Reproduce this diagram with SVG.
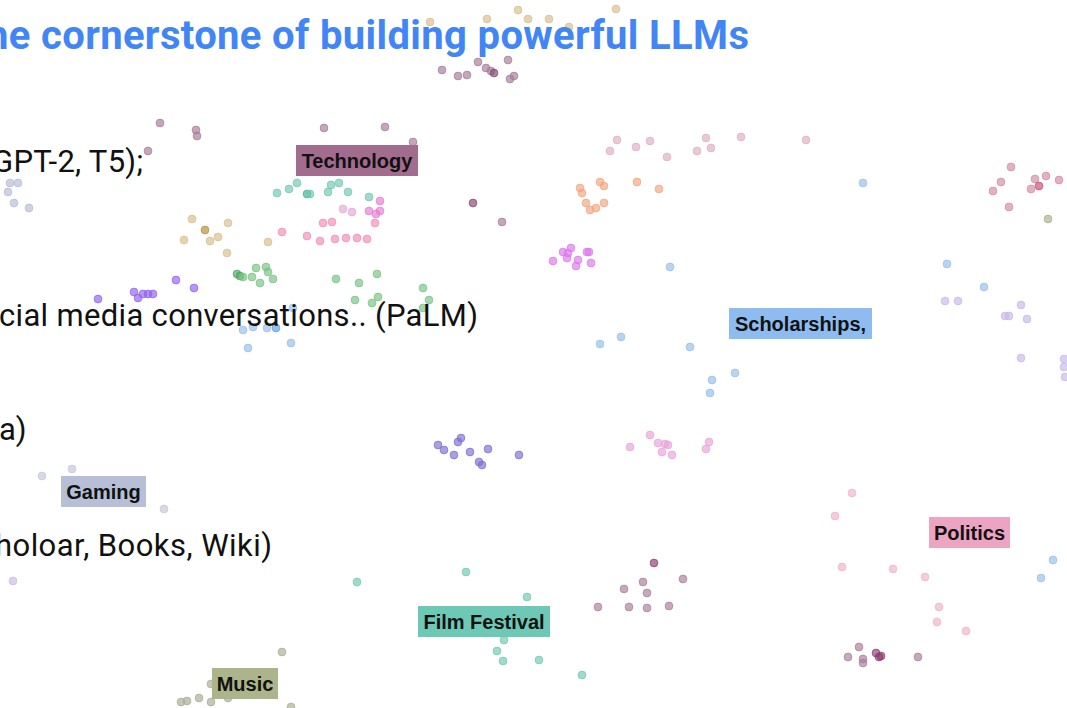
<svg xmlns="http://www.w3.org/2000/svg" width="1067" height="708" viewBox="0 0 1067 708">
<style>
.title{font-family:Roboto,"Liberation Sans",sans-serif;font-weight:700;font-size:40px;fill:#4285f4}
.body{font-family:Roboto,"Liberation Sans",sans-serif;font-size:31px;fill:#111}
.lbl{font-family:"Liberation Sans",Arial,sans-serif;font-weight:700;font-size:20px;fill:#111;text-anchor:middle}
circle{r:3.9px;stroke-width:0.9;fill-opacity:0.66;stroke-opacity:0.8}
.mv{fill:#a57a98;stroke:#a57a98}.mvd{fill:#84456f;stroke:#84456f}
.tan{fill:#d7bd8c;stroke:#d7bd8c}.gold{fill:#b08f35;stroke:#b08f35}
.gl{fill:#b5bad2;stroke:#b5bad2}.tl{fill:#6fc7b2;stroke:#6fc7b2}.tld{fill:#3fae95;stroke:#3fae95}
.pk{fill:#f18bb5;stroke:#f18bb5}.lp{fill:#e2a9d5;stroke:#e2a9d5}.mg{fill:#e77cd2;stroke:#e77cd2}
.gr{fill:#76c381;stroke:#76c381}.grd{fill:#4aa65e;stroke:#4aa65e}.vi{fill:#9160f0;stroke:#9160f0}
.bl{fill:#94bde9;stroke:#94bde9}.bld{fill:#5e9fe2;stroke:#5e9fe2}.lmp{fill:#dfadc3;stroke:#dfadc3}
.or{fill:#f2a57e;stroke:#f2a57e}.mgt{fill:#dc78ec;stroke:#dc78ec}.rm{fill:#d38aa0;stroke:#d38aa0}
.rd{fill:#cc4a70;stroke:#cc4a70}.ol{fill:#a9b088;stroke:#a9b088}.lv{fill:#c8b7e6;stroke:#c8b7e6}
.pk2{fill:#e8a3d8;stroke:#e8a3d8}.in{fill:#7e6dd2;stroke:#7e6dd2}.gm{fill:#c2c7d8;stroke:#c2c7d8}
.mr{fill:#a87d98;stroke:#a87d98}.mrd{fill:#8c3d6f;stroke:#8c3d6f}.po{fill:#f0b1c9;stroke:#f0b1c9}
.ms{fill:#a8ab92;stroke:#a8ab92}
</style>
<rect width="1067" height="708" fill="#ffffff"/>
<g id="dots">
<g id="c-tan-top">
<circle class="tan" cx="430" cy="22" r="3.9"/><circle class="tan" cx="487" cy="19" r="3.9"/><circle class="tan" cx="518" cy="10" r="3.9"/><circle class="tan" cx="528" cy="19" r="3.9"/><circle class="tan" cx="549" cy="19" r="3.9"/><circle class="tan" cx="569" cy="27" r="3.9"/><circle class="tan" cx="616" cy="9" r="3.9"/>
</g>
<g id="c-mauve">
<circle class="mv" cx="442" cy="70" r="3.9"/><circle class="mv" cx="458" cy="76" r="3.9"/><circle class="mv" cx="467" cy="75" r="3.9"/><circle class="mv" cx="478" cy="62" r="3.9"/><circle class="mv" cx="486" cy="68" r="3.9"/><circle class="mv" cx="491" cy="71" r="3.9"/><circle class="mvd" cx="494" cy="73" r="3.9"/><circle class="mv" cx="508" cy="60" r="3.9"/><circle class="mv" cx="510" cy="79" r="3.9"/><circle class="mv" cx="514" cy="76" r="3.9"/>
<circle class="mv" cx="160" cy="123" r="3.9"/><circle class="mv" cx="196" cy="130" r="3.9"/><circle class="mv" cx="197" cy="136" r="3.9"/><circle class="mv" cx="148" cy="151" r="3.9"/><circle class="mv" cx="324" cy="128" r="3.9"/><circle class="mv" cx="385" cy="127" r="3.9"/><circle class="mv" cx="413" cy="142" r="3.9"/><circle class="mv" cx="502" cy="222" r="3.9"/><circle class="mvd" cx="473" cy="203" r="3.9"/>
</g>
<g id="c-graylav">
<circle class="gl" cx="10" cy="183" r="3.9"/><circle class="gl" cx="18" cy="183" r="3.9"/><circle class="gl" cx="8" cy="192" r="3.9"/><circle class="gl" cx="14" cy="203" r="3.9"/><circle class="gl" cx="29" cy="208" r="3.9"/>
</g>
<g id="c-teal-tech">
<circle class="tl" cx="277" cy="193" r="3.9"/><circle class="tl" cx="289" cy="189" r="3.9"/><circle class="tl" cx="297" cy="183" r="3.9"/><circle class="tld" cx="307" cy="194" r="3.9"/><circle class="tl" cx="310" cy="194" r="3.9"/><circle class="tl" cx="328" cy="192" r="3.9"/><circle class="tl" cx="331" cy="185" r="3.9"/><circle class="tl" cx="339" cy="183" r="3.9"/><circle class="tl" cx="348" cy="192" r="3.9"/><circle class="tl" cx="369" cy="197" r="3.9"/>
</g>
<g id="c-pink">
<circle class="lp" cx="343" cy="209" r="3.9"/><circle class="lp" cx="352" cy="212" r="3.9"/>
<circle class="mg" cx="380" cy="201" r="3.9"/><circle class="mg" cx="380" cy="211" r="3.9"/><circle class="mg" cx="376" cy="214" r="3.9"/><circle class="mg" cx="369" cy="211" r="3.9"/><circle class="pk" cx="375" cy="223" r="3.9"/>
<circle class="pk" cx="323" cy="223" r="3.9"/><circle class="pk" cx="332" cy="222" r="3.9"/><circle class="pk" cx="282" cy="232" r="3.9"/><circle class="pk" cx="307" cy="236" r="3.9"/><circle class="pk" cx="320" cy="241" r="3.9"/><circle class="pk" cx="335" cy="239" r="3.9"/><circle class="pk" cx="346" cy="238" r="3.9"/><circle class="pk" cx="357" cy="238" r="3.9"/><circle class="pk" cx="367" cy="239" r="3.9"/>
</g>
<g id="c-tan">
<circle class="tan" cx="192" cy="219" r="3.9"/><circle class="gold" cx="205" cy="230" r="3.9"/><circle class="tan" cx="210" cy="241" r="3.9"/><circle class="tan" cx="218" cy="237" r="3.9"/><circle class="tan" cx="228" cy="223" r="3.9"/><circle class="tan" cx="184" cy="240" r="3.9"/><circle class="tan" cx="227" cy="253" r="3.9"/><circle class="tan" cx="268" cy="242" r="3.9"/>
</g>
<g id="c-green">
<circle class="grd" cx="237" cy="274" r="3.9"/><circle class="grd" cx="240" cy="276" r="3.9"/><circle class="gr" cx="243" cy="277" r="3.9"/><circle class="gr" cx="252" cy="277" r="3.9"/><circle class="gr" cx="256" cy="268" r="3.9"/><circle class="gr" cx="266" cy="267" r="3.9"/><circle class="gr" cx="268" cy="272" r="3.9"/><circle class="gr" cx="273" cy="279" r="3.9"/><circle class="gr" cx="260" cy="283" r="3.9"/><circle class="gr" cx="336" cy="279" r="3.9"/><circle class="gr" cx="359" cy="283" r="3.9"/><circle class="gr" cx="377" cy="274" r="3.9"/><circle class="gr" cx="423" cy="288" r="3.9"/><circle class="gr" cx="429" cy="300" r="3.9"/><circle class="gr" cx="355" cy="300" r="3.9"/><circle class="gr" cx="372" cy="303" r="3.9"/><circle class="gr" cx="378" cy="297" r="3.9"/><circle class="gr" cx="423" cy="308" r="3.9"/>
</g>
<g id="c-violet">
<circle class="vi" cx="176" cy="280" r="3.9"/><circle class="vi" cx="194" cy="288" r="3.9"/><circle class="vi" cx="98" cy="299" r="3.9"/><circle class="vi" cx="134" cy="292" r="3.9"/><circle class="vi" cx="138" cy="298" r="3.9"/><circle class="vi" cx="143" cy="294" r="3.9"/><circle class="vi" cx="148" cy="294" r="3.9"/><circle class="vi" cx="153" cy="294" r="3.9"/>
</g>
<g id="c-blue">
<circle class="bl" cx="243" cy="330" r="3.9"/><circle class="bl" cx="248" cy="348" r="3.9"/><circle class="bl" cx="253" cy="327" r="3.9"/><circle class="bl" cx="267" cy="328" r="3.9"/><circle class="bld" cx="276" cy="328" r="3.9"/><circle class="bl" cx="291" cy="343" r="3.9"/><circle class="bl" cx="293" cy="308" r="3.9"/>
<circle class="bl" cx="670" cy="267" r="3.9"/><circle class="bl" cx="863" cy="183" r="3.9"/><circle class="bl" cx="947" cy="264" r="3.9"/><circle class="bl" cx="984" cy="287" r="3.9"/><circle class="bl" cx="600" cy="344" r="3.9"/><circle class="bl" cx="621" cy="337" r="3.9"/><circle class="bl" cx="690" cy="347" r="3.9"/><circle class="bl" cx="712" cy="380" r="3.9"/><circle class="bl" cx="735" cy="373" r="3.9"/><circle class="bl" cx="710" cy="393" r="3.9"/><circle class="bl" cx="1053" cy="560" r="3.9"/><circle class="bl" cx="1041" cy="578" r="3.9"/>
</g>
<g id="c-lightmauve">
<circle class="lmp" cx="617" cy="140" r="3.9"/><circle class="lmp" cx="610" cy="151" r="3.9"/><circle class="lmp" cx="636" cy="147" r="3.9"/><circle class="lmp" cx="650" cy="141" r="3.9"/><circle class="lmp" cx="667" cy="157" r="3.9"/><circle class="lmp" cx="697" cy="151" r="3.9"/><circle class="lmp" cx="706" cy="138" r="3.9"/><circle class="lmp" cx="711" cy="148" r="3.9"/><circle class="lmp" cx="741" cy="137" r="3.9"/><circle class="lmp" cx="806" cy="140" r="3.9"/>
</g>
<g id="c-orange">
<circle class="or" cx="580" cy="188" r="3.9"/><circle class="or" cx="582" cy="193" r="3.9"/><circle class="or" cx="600" cy="182" r="3.9"/><circle class="or" cx="604" cy="186" r="3.9"/><circle class="or" cx="637" cy="182" r="3.9"/><circle class="or" cx="659" cy="189" r="3.9"/><circle class="or" cx="586" cy="203" r="3.9"/><circle class="or" cx="590" cy="210" r="3.9"/><circle class="or" cx="596" cy="208" r="3.9"/><circle class="or" cx="604" cy="203" r="3.9"/>
</g>
<g id="c-magenta">
<circle class="mgt" cx="553" cy="261" r="3.9"/><circle class="mgt" cx="563" cy="252" r="3.9"/><circle class="mgt" cx="568" cy="253" r="3.9"/><circle class="mgt" cx="571" cy="248" r="3.9"/><circle class="mgt" cx="567" cy="258" r="3.9"/><circle class="mgt" cx="576" cy="266" r="3.9"/><circle class="mgt" cx="578" cy="260" r="3.9"/><circle class="mgt" cx="587" cy="252" r="3.9"/><circle class="mgt" cx="589" cy="252" r="3.9"/><circle class="mgt" cx="591" cy="263" r="3.9"/>
</g>
<g id="c-redmauve">
<circle class="rm" cx="1011" cy="167" r="3.9"/><circle class="rm" cx="1001" cy="182" r="3.9"/><circle class="rm" cx="993" cy="191" r="3.9"/><circle class="rm" cx="1035" cy="179" r="3.9"/><circle class="rm" cx="1046" cy="176" r="3.9"/><circle class="rm" cx="1059" cy="180" r="3.9"/><circle class="rm" cx="1031" cy="189" r="3.9"/><circle class="rd" cx="1039" cy="186" r="3.9"/><circle class="rm" cx="1009" cy="207" r="3.9"/><circle class="ol" cx="1048" cy="219" r="3.9"/>
</g>
<g id="c-lavender">
<circle class="lv" cx="945" cy="301" r="3.9"/><circle class="lv" cx="958" cy="301" r="3.9"/><circle class="lv" cx="1005" cy="316" r="3.9"/><circle class="lv" cx="1009" cy="316" r="3.9"/><circle class="lv" cx="1021" cy="305" r="3.9"/><circle class="lv" cx="1027" cy="319" r="3.9"/><circle class="lv" cx="1021" cy="358" r="3.9"/><circle class="lv" cx="1064" cy="359" r="3.9"/><circle class="lv" cx="1064" cy="367" r="3.9"/><circle class="lv" cx="1065" cy="377" r="3.9"/><circle class="lv" cx="13" cy="581" r="3.9"/>
</g>
<g id="c-pink2">
<circle class="pk2" cx="630" cy="447" r="3.9"/><circle class="pk2" cx="650" cy="435" r="3.9"/><circle class="pk2" cx="658" cy="443" r="3.9"/><circle class="pk2" cx="662" cy="452" r="3.9"/><circle class="pk2" cx="665" cy="444" r="3.9"/><circle class="pk2" cx="668" cy="445" r="3.9"/><circle class="pk2" cx="672" cy="455" r="3.9"/><circle class="pk2" cx="706" cy="449" r="3.9"/><circle class="pk2" cx="709" cy="442" r="3.9"/>
</g>
<g id="c-indigo">
<circle class="in" cx="438" cy="445" r="3.9"/><circle class="in" cx="444" cy="450" r="3.9"/><circle class="in" cx="454" cy="455" r="3.9"/><circle class="in" cx="458" cy="442" r="3.9"/><circle class="in" cx="461" cy="438" r="3.9"/><circle class="in" cx="470" cy="452" r="3.9"/><circle class="in" cx="479" cy="462" r="3.9"/><circle class="in" cx="482" cy="465" r="3.9"/><circle class="in" cx="488" cy="449" r="3.9"/><circle class="in" cx="519" cy="455" r="3.9"/>
</g>
<g id="c-gaming">
<circle class="gm" cx="42" cy="476" r="3.9"/><circle class="gm" cx="72" cy="469" r="3.9"/><circle class="gm" cx="164" cy="509" r="3.9"/>
</g>
<g id="c-teal-film">
<circle class="tl" cx="357" cy="582" r="3.9"/><circle class="tl" cx="466" cy="572" r="3.9"/><circle class="tl" cx="527" cy="597" r="3.9"/><circle class="tl" cx="504" cy="640" r="3.9"/><circle class="tl" cx="497" cy="651" r="3.9"/><circle class="tl" cx="503" cy="661" r="3.9"/><circle class="tl" cx="539" cy="660" r="3.9"/><circle class="tl" cx="582" cy="675" r="3.9"/>
</g>
<g id="c-maroon">
<circle class="mr" cx="598" cy="607" r="3.9"/><circle class="mr" cx="624" cy="589" r="3.9"/><circle class="mr" cx="629" cy="607" r="3.9"/><circle class="mr" cx="643" cy="582" r="3.9"/><circle class="mr" cx="647" cy="593" r="3.9"/><circle class="mr" cx="647" cy="608" r="3.9"/><circle class="mrd" cx="654" cy="563" r="3.9"/><circle class="mr" cx="669" cy="606" r="3.9"/><circle class="mr" cx="683" cy="579" r="3.9"/>
<circle class="mr" cx="848" cy="657" r="3.9"/><circle class="mr" cx="859" cy="647" r="3.9"/><circle class="mr" cx="863" cy="659" r="3.9"/><circle class="mr" cx="863" cy="663" r="3.9"/><circle class="mrd" cx="876" cy="653" r="3.9"/><circle class="mrd" cx="879" cy="657" r="3.9"/><circle class="mrd" cx="881" cy="656" r="3.9"/><circle class="mr" cx="918" cy="657" r="3.9"/>
</g>
<g id="c-politics">
<circle class="po" cx="852" cy="493" r="3.9"/><circle class="po" cx="835" cy="516" r="3.9"/><circle class="po" cx="842" cy="567" r="3.9"/><circle class="po" cx="893" cy="569" r="3.9"/><circle class="po" cx="925" cy="577" r="3.9"/><circle class="po" cx="939" cy="607" r="3.9"/><circle class="po" cx="937" cy="622" r="3.9"/><circle class="po" cx="966" cy="631" r="3.9"/>
</g>
<g id="c-music">
<circle class="ms" cx="282" cy="652" r="3.9"/><circle class="ms" cx="181" cy="702" r="3.9"/><circle class="ms" cx="187" cy="701" r="3.9"/><circle class="ms" cx="199" cy="698" r="3.9"/><circle class="ms" cx="211" cy="702" r="3.9"/><circle class="ms" cx="228" cy="698" r="3.9"/><circle class="ms" cx="211" cy="684" r="3.9"/><circle class="ms" cx="291" cy="707" r="3.9"/>
</g>
</g>
<g id="slide-text">
<text class="title" x="-14" y="49" textLength="763">he cornerstone of building powerful LLMs</text>
<text class="body" x="-8" y="172" textLength="151">GPT-2, T5);</text>
<text class="body" x="-1" y="326" textLength="479">cial media conversations.. (PaLM)</text>
<text class="body" x="-1" y="440">a)</text>
<text class="body" x="-5" y="556" textLength="277">holoar, Books, Wiki)</text>
</g>
<g id="label-technology"><rect x="296" y="145" width="122" height="31" fill="#a26c8f"/><text class="lbl" x="357" y="168">Technology</text></g>
<g id="label-scholarships"><rect x="729" y="308" width="143" height="31" fill="#8ebcf0"/><text class="lbl" x="800.5" y="331">Scholarships,</text></g>
<g id="label-gaming"><rect x="61" y="476" width="85" height="31" fill="#b7bfd6"/><text class="lbl" x="103.5" y="499">Gaming</text></g>
<g id="label-politics"><rect x="929" y="517" width="81" height="31" fill="#eda3c2"/><text class="lbl" x="969.5" y="540">Politics</text></g>
<g id="label-film"><rect x="418" y="606" width="132" height="31" fill="#6dc9b6"/><text class="lbl" x="484" y="629">Film Festival</text></g>
<g id="label-music"><rect x="212" y="668" width="66" height="31" fill="#abb48a"/><text class="lbl" x="245" y="691">Music</text></g>
</svg>
